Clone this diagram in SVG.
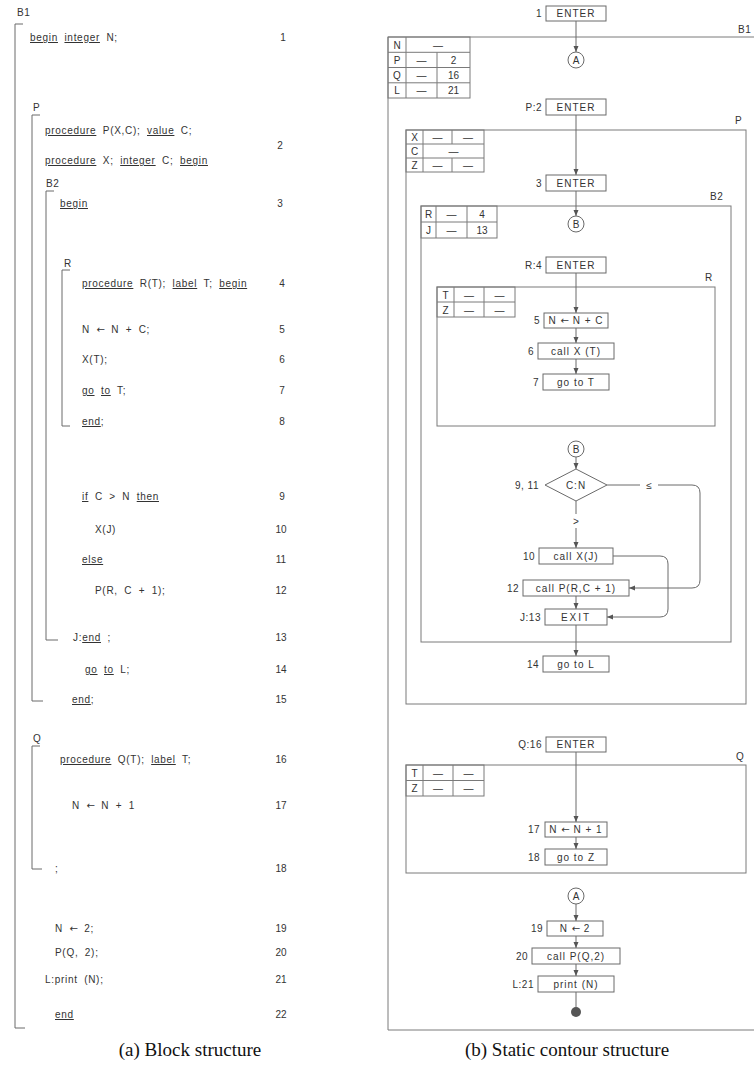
<svg xmlns="http://www.w3.org/2000/svg" width="754" height="1068" viewBox="0 0 754 1068">
<style>
.ln{stroke:#6a6a6a;stroke-width:1;fill:none}
.bx{stroke:#6a6a6a;stroke-width:1;fill:#fff}
.fr{stroke:#7a7a7a;stroke-width:1;fill:none}
.t{font-family:"Liberation Sans",Arial,sans-serif;font-size:10px;fill:#333;letter-spacing:0.7px;word-spacing:3px}
.n{font-family:"Liberation Sans",Arial,sans-serif;font-size:10px;fill:#333;text-anchor:middle}
.b{font-family:"Liberation Sans",Arial,sans-serif;font-size:10px;fill:#333;text-anchor:middle;letter-spacing:1px;word-spacing:0px}
.lb{font-family:"Liberation Sans",Arial,sans-serif;font-size:10px;fill:#333;text-anchor:end;letter-spacing:0.5px}
.ar{font-family:"DejaVu Sans",sans-serif;letter-spacing:0}
.kw{text-decoration:underline}
.cap{font-family:"Liberation Serif","Times New Roman",serif;font-size:19px;fill:#111;text-anchor:middle}
</style>
<defs>
<marker id="ar" markerUnits="userSpaceOnUse" markerWidth="6" markerHeight="6" refX="6" refY="3" orient="auto">
<path d="M0,0.5 L6,3 L0,5.5 z" fill="#555"/>
</marker>
</defs>
<rect width="754" height="1068" fill="#fff"/>

<!-- (a) Block structure -->
<g id="block-structure">
<g id="bracket-B1"><path class="ln" d="M23,24 H15 V1028 H25"/><text class="t" x="17" y="16">B1</text></g>
<g id="bracket-P"><path class="ln" d="M40,115 H32 V701 H43"/><text class="t" x="33" y="111">P</text></g>
<g id="bracket-B2"><path class="ln" d="M54,191 H46 V640 H58"/><text class="t" x="46" y="187">B2</text></g>
<g id="bracket-R"><path class="ln" d="M70,270 H62 V426 H70"/><text class="t" x="64" y="267">R</text></g>
<g id="bracket-Q"><path class="ln" d="M40,746 H32 V869 H42"/><text class="t" x="33" y="742">Q</text></g>

<g id="code">
<text class="t" x="30" y="41"><tspan class="kw">begin</tspan> <tspan class="kw">integer</tspan> N;</text>
<text class="t" x="45" y="134"><tspan class="kw">procedure</tspan> P(X,C); <tspan class="kw">value</tspan> C;</text>
<text class="t" x="45" y="164"><tspan class="kw">procedure</tspan> X; <tspan class="kw">integer</tspan> C; <tspan class="kw">begin</tspan></text>
<text class="t" x="60" y="207"><tspan class="kw">begin</tspan></text>
<text class="t" x="82" y="287"><tspan class="kw">procedure</tspan> R(T); <tspan class="kw">label</tspan> T; <tspan class="kw">begin</tspan></text>
<text class="t" x="82" y="333">N <tspan class="ar">←</tspan> N + C;</text>
<text class="t" x="82" y="363">X(T);</text>
<text class="t" x="82" y="394"><tspan class="kw">go</tspan> <tspan class="kw">to</tspan> T;</text>
<text class="t" x="82" y="425"><tspan class="kw">end</tspan>;</text>
<text class="t" x="82" y="500"><tspan class="kw">if</tspan> C &gt; N <tspan class="kw">then</tspan></text>
<text class="t" x="95" y="533">X(J)</text>
<text class="t" x="82" y="563"><tspan class="kw">else</tspan></text>
<text class="t" x="95" y="594">P(R, C + 1);</text>
<text class="t" x="73" y="641">J:<tspan class="kw">end</tspan> ;</text>
<text class="t" x="85" y="673"><tspan class="kw">go</tspan> <tspan class="kw">to</tspan> L;</text>
<text class="t" x="72" y="703"><tspan class="kw">end</tspan>;</text>
<text class="t" x="60" y="763"><tspan class="kw">procedure</tspan> Q(T); <tspan class="kw">label</tspan> T;</text>
<text class="t" x="72" y="809">N <tspan class="ar">←</tspan> N + 1</text>
<text class="t" x="55" y="872">;</text>
<text class="t" x="55" y="932">N <tspan class="ar">←</tspan> 2;</text>
<text class="t" x="55" y="956">P(Q, 2);</text>
<text class="t" x="45" y="983">L:print (N);</text>
<text class="t" x="55" y="1018"><tspan class="kw">end</tspan></text>
</g>
<g id="line-numbers">
<text class="n" x="283" y="41">1</text>
<text class="n" x="280" y="149">2</text>
<text class="n" x="280" y="207">3</text>
<text class="n" x="282" y="287">4</text>
<text class="n" x="282" y="333">5</text>
<text class="n" x="282" y="363">6</text>
<text class="n" x="282" y="394">7</text>
<text class="n" x="282" y="425">8</text>
<text class="n" x="282" y="500">9</text>
<text class="n" x="281" y="533">10</text>
<text class="n" x="281" y="563">11</text>
<text class="n" x="281" y="594">12</text>
<text class="n" x="281" y="641">13</text>
<text class="n" x="281" y="673">14</text>
<text class="n" x="281" y="703">15</text>
<text class="n" x="281" y="763">16</text>
<text class="n" x="281" y="809">17</text>
<text class="n" x="281" y="872">18</text>
<text class="n" x="281" y="932">19</text>
<text class="n" x="281" y="956">20</text>
<text class="n" x="281" y="983">21</text>
<text class="n" x="281" y="1018">22</text>
</g>
<text class="cap" x="190" y="1056">(a) Block structure</text>
</g>

<!-- (b) Static contour structure -->
<g id="contour-B1">
<path class="fr" d="M754,37 H388 V1030 H754"/>
<text class="t" x="738" y="33">B1</text>
<g id="table-B1">
<rect class="fr" x="388" y="37" width="82" height="61"/>
<path class="fr" d="M388,52.3 H470 M388,67.5 H470 M388,82.8 H470 M406,37 V98 M437,52.3 V98"/>
<text class="n" x="397" y="48.5">N</text><text class="n" x="438" y="48.5">—</text>
<text class="n" x="397" y="63.5">P</text><text class="n" x="421.5" y="63.5">—</text><text class="n" x="453.5" y="63.5">2</text>
<text class="n" x="397" y="79">Q</text><text class="n" x="421.5" y="79">—</text><text class="n" x="453.5" y="79">16</text>
<text class="n" x="397" y="94">L</text><text class="n" x="421.5" y="94">—</text><text class="n" x="453.5" y="94">21</text>
</g>
</g>

<g id="contour-P">
<rect class="fr" x="406" y="130" width="340" height="574"/>
<text class="t" x="735" y="124">P</text>
<g id="table-P">
<rect class="fr" x="406" y="130" width="78" height="42"/>
<path class="fr" d="M406,144 H484 M406,158 H484 M423,130 V172 M452,130 V144 M452,158 V172"/>
<text class="n" x="414.5" y="141">X</text><text class="n" x="437.5" y="141">—</text><text class="n" x="468" y="141">—</text>
<text class="n" x="414.5" y="155">C</text><text class="n" x="453.5" y="155">—</text>
<text class="n" x="414.5" y="169">Z</text><text class="n" x="437.5" y="169">—</text><text class="n" x="468" y="169">—</text>
</g>
</g>

<g id="contour-B2">
<rect class="fr" x="421" y="206" width="310" height="436"/>
<text class="t" x="710" y="200">B2</text>
<g id="table-B2">
<rect class="fr" x="421" y="206" width="76" height="32"/>
<path class="fr" d="M421,222 H497 M436,206 V238 M467,206 V238"/>
<text class="n" x="428.5" y="218">R</text><text class="n" x="451.5" y="218">—</text><text class="n" x="482" y="218">4</text>
<text class="n" x="428.5" y="234">J</text><text class="n" x="451.5" y="234">—</text><text class="n" x="482" y="234">13</text>
</g>
</g>

<g id="contour-R">
<rect class="fr" x="437" y="287" width="278" height="139"/>
<text class="t" x="705" y="281">R</text>
<g id="table-R">
<rect class="fr" x="437" y="287" width="78" height="30"/>
<path class="fr" d="M437,302 H515 M454,287 V317 M484,287 V317"/>
<text class="n" x="445.5" y="298.5">T</text><text class="n" x="469" y="298.5">—</text><text class="n" x="499.5" y="298.5">—</text>
<text class="n" x="445.5" y="313.5">Z</text><text class="n" x="469" y="313.5">—</text><text class="n" x="499.5" y="313.5">—</text>
</g>
</g>

<g id="contour-Q">
<rect class="fr" x="406" y="765" width="340" height="108"/>
<text class="t" x="736" y="760">Q</text>
<g id="table-Q">
<rect class="fr" x="406" y="765" width="78" height="31"/>
<path class="fr" d="M406,780.5 H484 M423,765 V796 M453,765 V796"/>
<text class="n" x="414.5" y="776.5">T</text><text class="n" x="438" y="776.5">—</text><text class="n" x="468.5" y="776.5">—</text>
<text class="n" x="414.5" y="792">Z</text><text class="n" x="438" y="792">—</text><text class="n" x="468.5" y="792">—</text>
</g>
</g>

<g id="connectors">
<path class="ln" marker-end="url(#ar)" d="M576,21 V52"/>
<path class="ln" marker-end="url(#ar)" d="M576,115 V175"/>
<path class="ln" marker-end="url(#ar)" d="M576,191 V216"/>
<path class="ln" marker-end="url(#ar)" d="M576,273 V313"/>
<path class="ln" marker-end="url(#ar)" d="M576,328 V343"/>
<path class="ln" marker-end="url(#ar)" d="M576,359 V374"/>
<path class="ln" marker-end="url(#ar)" d="M576,457 V469"/>
<path class="ln" d="M576,501 V514"/>
<path class="ln" marker-end="url(#ar)" d="M576,528 V548"/>
<path class="ln" d="M607,485 H640"/>
<path class="ln" marker-end="url(#ar)" d="M658,485 H692 Q700,485 700,493 V580 Q700,588 692,588 H629"/>
<path class="ln" marker-end="url(#ar)" d="M613,556 H660 Q668,556 668,564 V609 Q668,617 660,617 H607"/>
<path class="ln" marker-end="url(#ar)" d="M576,596 V609"/>
<path class="ln" marker-end="url(#ar)" d="M576,625 V656"/>
<path class="ln" marker-end="url(#ar)" d="M576,752 V822"/>
<path class="ln" marker-end="url(#ar)" d="M576,837 V849"/>
<path class="ln" marker-end="url(#ar)" d="M576,904 V921"/>
<path class="ln" marker-end="url(#ar)" d="M576,936 V948"/>
<path class="ln" marker-end="url(#ar)" d="M576,964 V976"/>
<path class="ln" d="M576,992 V1007"/>
<text class="n" x="649" y="489">≤</text>
<text class="n" x="576" y="525">&gt;</text>
</g>

<g id="n1"><rect class="bx" x="546" y="6" width="60" height="15"/><text class="b" x="576" y="17">ENTER</text><text class="lb" x="542" y="17">1</text></g>
<g id="cA1"><circle class="bx" cx="576" cy="60" r="8"/><text class="n" x="576" y="63.5">A</text></g>
<g id="n2"><rect class="bx" x="546" y="99" width="60" height="16"/><text class="b" x="576" y="110.5">ENTER</text><text class="lb" x="542" y="110.5">P:2</text></g>
<g id="n3"><rect class="bx" x="546" y="175" width="60" height="16"/><text class="b" x="576" y="186.5">ENTER</text><text class="lb" x="542" y="186.5">3</text></g>
<g id="cB1"><circle class="bx" cx="576" cy="224" r="8"/><text class="n" x="576" y="227.5">B</text></g>
<g id="n4"><rect class="bx" x="546" y="257" width="60" height="16"/><text class="b" x="576" y="268.5">ENTER</text><text class="lb" x="542" y="268.5">R:4</text></g>
<g id="n5"><rect class="bx" x="544" y="313" width="64" height="15"/><text class="b" x="576" y="324">N <tspan class="ar">←</tspan> N + C</text><text class="lb" x="540" y="324">5</text></g>
<g id="n6"><rect class="bx" x="538" y="343" width="76" height="16"/><text class="b" x="576" y="354.5">call  X (T)</text><text class="lb" x="534" y="354.5">6</text></g>
<g id="n7"><rect class="bx" x="543" y="374" width="66" height="16"/><text class="b" x="576" y="385.5">go  to  T</text><text class="lb" x="539" y="385.5">7</text></g>
<g id="cB2"><circle class="bx" cx="576" cy="449" r="8"/><text class="n" x="576" y="452.5">B</text></g>
<g id="n9"><path class="bx" d="M576,469 L607,485 L576,501 L545,485 Z"/><text class="b" x="576" y="488.5">C:N</text><text class="lb" x="539" y="488.5">9, 11</text></g>
<g id="n10"><rect class="bx" x="539" y="548" width="74" height="16"/><text class="b" x="576" y="559.5">call X(J)</text><text class="lb" x="535" y="559.5">10</text></g>
<g id="n12"><rect class="bx" x="523" y="580" width="106" height="16"/><text class="b" x="576" y="591.5">call P(R,C + 1)</text><text class="lb" x="519" y="591.5">12</text></g>
<g id="n13"><rect class="bx" x="545" y="609" width="62" height="16"/><text class="b" x="576" y="620.5" style="letter-spacing:2px">EXIT</text><text class="lb" x="541" y="620.5">J:13</text></g>
<g id="n14"><rect class="bx" x="543" y="656" width="66" height="16"/><text class="b" x="576" y="667.5">go  to  L</text><text class="lb" x="539" y="667.5">14</text></g>
<g id="n16"><rect class="bx" x="546" y="737" width="60" height="15"/><text class="b" x="576" y="748">ENTER</text><text class="lb" x="542" y="748">Q:16</text></g>
<g id="n17"><rect class="bx" x="545" y="822" width="62" height="15"/><text class="b" x="576" y="833">N <tspan class="ar">←</tspan> N + 1</text><text class="lb" x="540" y="833">17</text></g>
<g id="n18"><rect class="bx" x="545" y="849" width="62" height="16"/><text class="b" x="576" y="860.5">go  to  Z</text><text class="lb" x="540" y="860.5">18</text></g>
<g id="cA2"><circle class="bx" cx="576" cy="896" r="8"/><text class="n" x="576" y="899.5">A</text></g>
<g id="n19"><rect class="bx" x="547" y="921" width="56" height="15"/><text class="b" x="575" y="932">N <tspan class="ar">←</tspan> 2</text><text class="lb" x="543" y="932">19</text></g>
<g id="n20"><rect class="bx" x="532" y="948" width="88" height="16"/><text class="b" x="576" y="959.5">call  P(Q,2)</text><text class="lb" x="528" y="959.5">20</text></g>
<g id="n21"><rect class="bx" x="538" y="976" width="76" height="16"/><text class="b" x="576" y="987.5">print (N)</text><text class="lb" x="534" y="987.5">L:21</text></g>
<g id="end"><circle cx="576" cy="1012" r="5" fill="#555"/></g>
<text class="cap" x="567" y="1056">(b) Static contour structure</text>
</svg>
